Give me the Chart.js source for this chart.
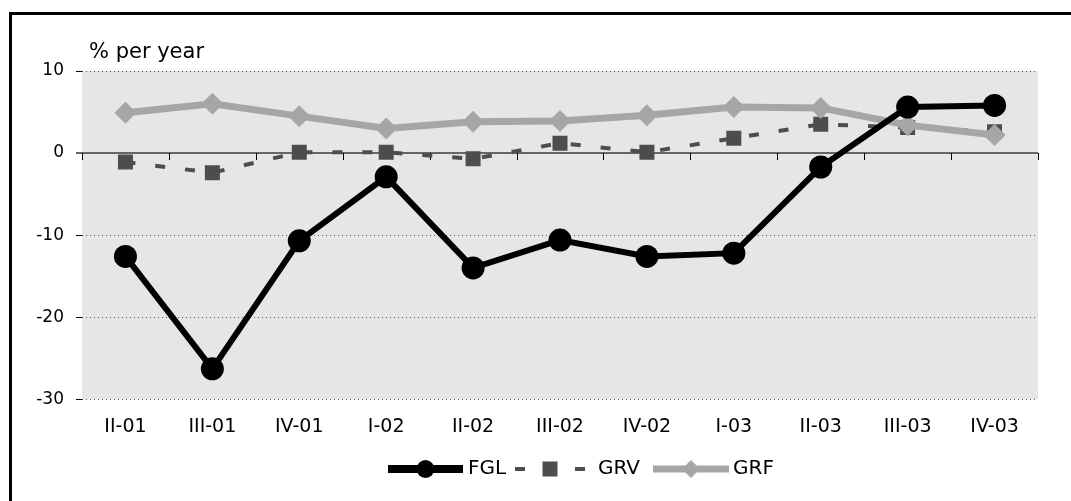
<!DOCTYPE html>
<html>
<head>
<meta charset="utf-8">
<title>FGL, GRV, GRF</title>
<script src="https://cdn.jsdelivr.net/npm/chart.js@4.4.1/dist/chart.umd.min.js"></script>
<style>
  html, body { margin: 0; padding: 0; background: #fff; }
  #contenedor { position: relative; width: 1071px; height: 501px; overflow: hidden; }
  /* marco negro arriba y a la izquierda */
  #marco {
    position: absolute; left: 9px; top: 12px; right: 0; bottom: 0;
    border-left: 3px solid #000; border-top: 3px solid #000;
  }
  #lineChart { position: absolute; left: 0; top: 0; }
</style>
</head>
<body>
<div id="contenedor">
  <div id="marco"></div>
  <canvas id="lineChart" width="1071" height="501"></canvas>
</div>
<script>
// Trimestres del eje X
const trimestres = ["II-01", "III-01", "IV-01", "I-02", "II-02", "III-02", "IV-02", "I-03", "II-03", "III-03", "IV-03"];

// Series (% por año)
const fgl = [-12.6, -26.3, -10.7, -2.9, -14.0, -10.6, -12.6, -12.2, -1.7, 5.6, 5.8];
const grv = [-1.1, -2.4, 0.1, 0.1, -0.7, 1.2, 0.1, 1.8, 3.5, 3.1, 2.6];
const grf = [4.9, 6.0, 4.5, 3.0, 3.8, 3.9, 4.6, 5.6, 5.5, 3.4, 2.2];

// Marcas del eje Y
const ticksY = [10, 0, -10, -20, -30];

const fuente = "Verdana, 'DejaVu Sans', sans-serif";

// Fondo gris, líneas punteadas y línea del cero con sus marcas
const fondoPlugin = {
  id: "fondo",
  beforeDatasetsDraw(chart) {
    const { ctx, chartArea: a, scales } = chart;
    const y = scales.y, x = scales.x;
    ctx.save();
    ctx.fillStyle = "#e6e6e6";
    ctx.fillRect(a.left, a.top, a.right - a.left, a.bottom - a.top);

    // punteadas
    ctx.strokeStyle = "#555";
    ctx.lineWidth = 1;
    ctx.setLineDash([1, 3]);
    ticksY.forEach(v => {
      if (v === 0) return;
      const py = Math.round(y.getPixelForValue(v)) + 0.5;
      ctx.beginPath();
      ctx.moveTo(a.left, py);
      ctx.lineTo(a.right, py);
      ctx.stroke();
    });
    ctx.setLineDash([]);

    // línea del cero
    const y0 = Math.round(y.getPixelForValue(0));
    ctx.strokeStyle = "#666";
    ctx.lineWidth = 2;
    ctx.beginPath();
    ctx.moveTo(a.left - 6, y0);
    ctx.lineTo(a.right, y0);
    ctx.stroke();

    // marcas entre categorías, hacia abajo
    ctx.strokeStyle = "#000";
    ctx.lineWidth = 1;
    const n = trimestres.length;
    for (let i = 0; i <= n; i++) {
      let px;
      if (i === 0) px = a.left;
      else if (i === n) px = a.right;
      else px = (x.getPixelForValue(i - 1) + x.getPixelForValue(i)) / 2;
      px = Math.round(px) + 0.5;
      ctx.beginPath();
      ctx.moveTo(px, y0);
      ctx.lineTo(px, y0 + 7);
      ctx.stroke();
    }
    ctx.restore();
  },
  afterDraw(chart) {
    const ctx = chart.ctx;
    ctx.save();
    ctx.fillStyle = "#000";
    ctx.font = "21px " + fuente;
    ctx.textBaseline = "alphabetic";
    ctx.fillText("% per year", 89, 58);
    ctx.restore();
  }
};

// Leyenda dibujada a mano: línea con su marcador
const leyenda = [
  { x: 388, w: 75, tx: 468 },
  { x: 515, w: 70, tx: 598 },
  { x: 653, w: 76, tx: 733 }
];
const leyendaPlugin = {
  id: "leyendaMano",
  afterDraw(chart) {
    const ctx = chart.ctx;
    const yc = 469;
    ctx.save();
    chart.data.datasets.forEach((ds, i) => {
      const l = leyenda[i];
      ctx.strokeStyle = ds.borderColor;
      ctx.lineWidth = ds.leyendaAncho;
      ctx.setLineDash(ds.borderDash || []);
      ctx.beginPath();
      ctx.moveTo(l.x, yc);
      ctx.lineTo(l.x + l.w, yc);
      ctx.stroke();
      ctx.setLineDash([]);

      const cx = l.x + l.w / 2;
      const r = ds.leyendaRadio;
      ctx.fillStyle = ds.pointBackgroundColor;
      ctx.beginPath();
      if (ds.pointStyle === "circle") {
        ctx.arc(cx, yc, r, 0, Math.PI * 2);
      } else if (ds.pointStyle === "rect") {
        ctx.rect(cx - r, yc - r, r * 2, r * 2);
      } else {
        ctx.moveTo(cx, yc - r);
        ctx.lineTo(cx + r, yc);
        ctx.lineTo(cx, yc + r);
        ctx.lineTo(cx - r, yc);
        ctx.closePath();
      }
      ctx.fill();

      ctx.fillStyle = "#000";
      ctx.font = "20px " + fuente;
      ctx.textBaseline = "middle";
      ctx.fillText(ds.label, l.tx, yc);
    });
    ctx.restore();
  }
};

const ctx = document.getElementById("lineChart");

new Chart(ctx, {
  type: "line",
  data: {
    labels: trimestres,
    datasets: [
      {
        label: "FGL",
        data: fgl,
        borderColor: "#000",
        borderWidth: 6,
        pointStyle: "circle",
        pointRadius: 11.5,
        pointHoverRadius: 11.5,
        pointBackgroundColor: "#000",
        pointBorderWidth: 0,
        order: 0,
        leyendaAncho: 8,
        leyendaRadio: 9
      },
      {
        label: "GRV",
        data: grv,
        borderColor: "#4d4d4d",
        borderWidth: 4,
        borderDash: [10, 20],
        pointStyle: "rect",
        pointRadius: 10.6,
        pointHoverRadius: 10.6,
        pointBackgroundColor: "#4d4d4d",
        pointBorderWidth: 0,
        order: 2,
        leyendaAncho: 4,
        leyendaRadio: 7.5
      },
      {
        label: "GRF",
        data: grf,
        borderColor: "#a6a6a6",
        borderWidth: 7,
        pointStyle: "rectRot",
        pointRadius: 11,
        pointHoverRadius: 11,
        pointBackgroundColor: "#a6a6a6",
        pointBorderWidth: 0,
        order: 1,
        leyendaAncho: 7,
        leyendaRadio: 9
      }
    ]
  },
  options: {
    responsive: false,
    animation: false,
    devicePixelRatio: 1,
    layout: {
      padding: { left: 20, right: 33, top: 71, bottom: 47 }
    },
    plugins: {
      legend: { display: false },
      tooltip: { enabled: false }
    },
    scales: {
      x: {
        offset: true,
        grid: { display: false, drawTicks: false },
        border: { display: false },
        ticks: {
          color: "#000",
          font: { family: fuente, size: 19 },
          padding: 16,
          maxRotation: 0,
          autoSkip: false
        }
      },
      y: {
        min: -30,
        max: 10,
        afterFit(scale) { scale.width = 62; },
        afterBuildTicks(scale) {
          scale.ticks = ticksY.map(v => ({ value: v }));
        },
        grid: {
          drawOnChartArea: false,
          drawTicks: true,
          tickLength: 6,
          color: "#000"
        },
        border: { display: true, color: "#000", width: 1 },
        ticks: {
          color: "#000",
          font: { family: fuente, size: 17 },
          padding: 12
        }
      }
    }
  },
  plugins: [fondoPlugin, leyendaPlugin]
});
</script>
</body>
</html>
